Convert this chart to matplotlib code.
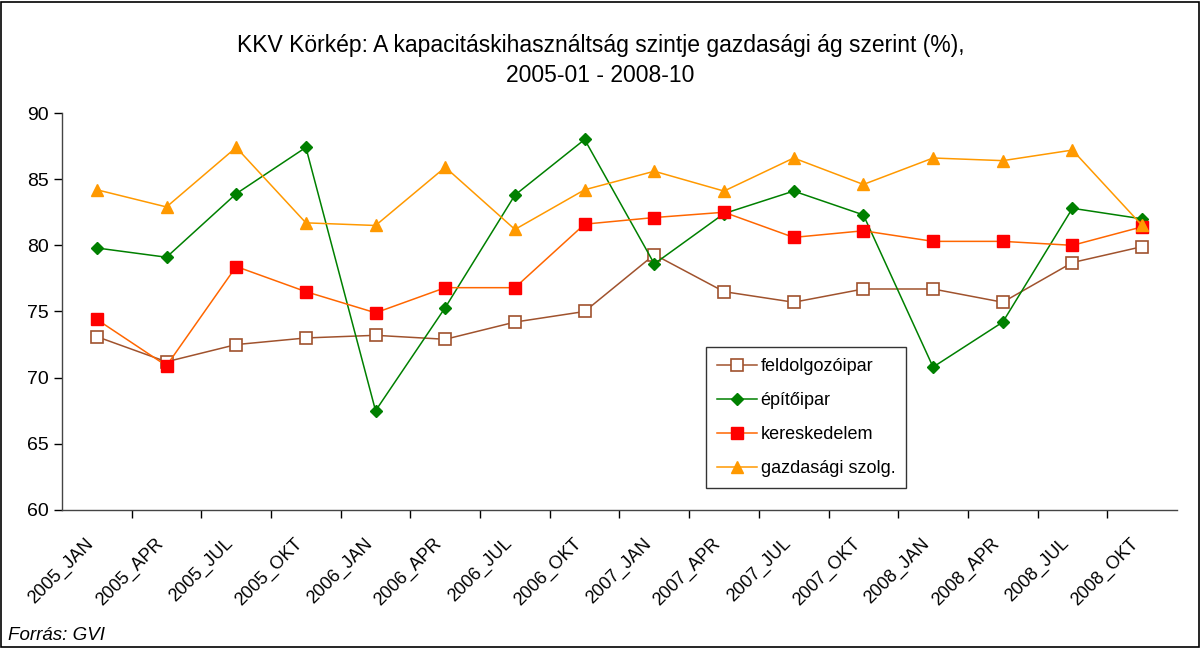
import matplotlib
matplotlib.use("Agg")
import matplotlib.pyplot as plt
from matplotlib.patches import Rectangle
from matplotlib.transforms import ScaledTranslation

plt.rcParams["font.family"] = ["Liberation Sans", "DejaVu Sans"]

periods = [
    "2005_JAN", "2005_APR", "2005_JUL", "2005_OKT",
    "2006_JAN", "2006_APR", "2006_JUL", "2006_OKT",
    "2007_JAN", "2007_APR", "2007_JUL", "2007_OKT",
    "2008_JAN", "2008_APR", "2008_JUL", "2008_OKT",
]
feldolgozoipar = [73.1, 71.2, 72.5, 73.0, 73.2, 72.9, 74.2, 75.0,
                  79.3, 76.5, 75.7, 76.7, 76.7, 75.7, 78.7, 79.9]
epitoipar = [79.8, 79.1, 83.9, 87.4, 67.5, 75.3, 83.8, 88.0,
             78.6, 82.4, 84.1, 82.3, 70.8, 74.2, 82.8, 82.0]
kereskedelem = [74.4, 70.9, 78.4, 76.5, 74.9, 76.8, 76.8, 81.6,
                82.1, 82.5, 80.6, 81.1, 80.3, 80.3, 80.0, 81.4]
gazdasagi_szolg = [84.2, 82.9, 87.4, 81.7, 81.5, 85.9, 81.2, 84.2,
                   85.6, 84.1, 86.6, 84.6, 86.6, 86.4, 87.2, 81.5]

fig = plt.figure(figsize=(12.01, 6.48), dpi=100)
ax = fig.add_axes([0.0516, 0.213, 0.9284, 0.6126])

x = list(range(len(periods)))
ax.plot(x, feldolgozoipar, color="#A0522D", lw=1.1, marker="s", ms=8,
        mfc="white", mec="#A0522D", mew=1.2, label="feldolgozóipar")
ax.plot(x, epitoipar, color="#008000", lw=1.1, marker="D", ms=6.5,
        mfc="#008000", mec="#008000", label="építőipar")
ax.plot(x, kereskedelem, color="#FF6600", lw=1.1, marker="s", ms=8,
        mfc="#FF0000", mec="#FF0000", label="kereskedelem")
ax.plot(x, gazdasagi_szolg, color="#FF9900", lw=1.1, marker="^", ms=9,
        mfc="#FF9900", mec="#FF9900", label="gazdasági szolg.")

ax.set_xlim(-0.5, len(periods) - 0.5)
ax.set_ylim(60, 90)
ax.set_yticks(range(60, 91, 5))
ax.tick_params(axis="y", labelsize=14, direction="out", length=6, width=1)

# category ticks sit between the labels
ax.set_xticks([i + 0.5 for i in range(len(periods) - 1)])
ax.set_xticklabels([])
ax.tick_params(axis="x", direction="out", length=6, width=1)
offset = ScaledTranslation(-0.12, -0.25, fig.dpi_scale_trans)
for i, lab in enumerate(periods):
    ax.text(i, 60, lab, rotation=45, ha="right", va="top", fontsize=13,
            rotation_mode="anchor",
            transform=ax.transData + offset)

for side in ("top", "right"):
    ax.spines[side].set_visible(False)
for side in ("left", "bottom"):
    ax.spines[side].set_linewidth(1)
    ax.spines[side].set_color("#444444")

leg = ax.legend(loc="lower left", bbox_to_anchor=(0.578, 0.055), borderaxespad=0,
                fontsize=13, frameon=True, fancybox=False, handlelength=2.2,
                borderpad=0.6, labelspacing=0.95, handletextpad=0.2)
leg.get_frame().set_edgecolor("black")
leg.get_frame().set_linewidth(1)

fig.text(0.5, 0.93, "KKV Körkép: A kapacitáskihasználtság szintje gazdasági ág szerint (%),",
         ha="center", va="center", fontsize=16.5)
fig.text(0.5, 0.884, "2005-01 - 2008-10", ha="center", va="center", fontsize=16.5)
fig.text(0.007, 0.02, "Forrás: GVI", ha="left", va="center", fontsize=13.5, style="italic")

fig.patches.append(Rectangle((0.001, 0.002), 0.997, 0.995, transform=fig.transFigure,
                             fill=False, edgecolor="black", lw=1.2))

fig.savefig("out.png", dpi=100)
